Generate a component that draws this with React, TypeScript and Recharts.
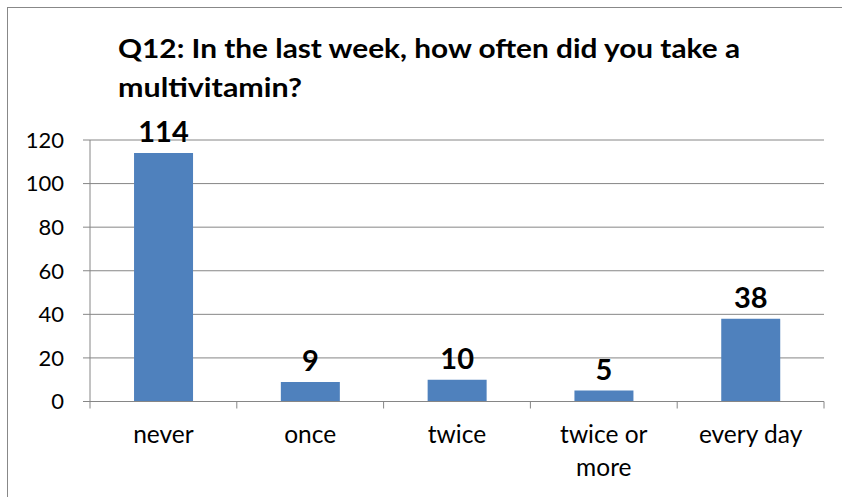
import React from "react";
import { BarChart, Bar, XAxis, YAxis, CartesianGrid, LabelList } from "recharts";

const categories = ["never", "once", "twice", "twice or more", "every day"];
const counts = [114, 9, 10, 5, 38];
const tickLines = [["never"], ["once"], ["twice"], ["twice or", "more"], ["every day"]];
const yTicks = [0, 20, 40, 60, 80, 100, 120];
const titleLines = ["Q12: In the last week, how often did you take a", "multivitamin?"];
const titleWidths = [622, 184];

const data = categories.map((c, i) => ({ name: c, value: counts[i] }));

const FONT = "Lato, 'Open Sans', sans-serif";
const GRID = "#868686";

const XTick = (props: any) => {
  const { x, y, payload, index } = props;
  const half = payload && payload.offset ? payload.offset : 0;
  const lines = tickLines[index] || [String(payload.value)];
  return (
    <g>
      <line x1={x - half} x2={x - half} y1={y} y2={y + 7} stroke={GRID} strokeWidth={1} />
      {index === categories.length - 1 && (
        <line x1={x + half} x2={x + half} y1={y} y2={y + 7} stroke={GRID} strokeWidth={1} />
      )}
      <text x={x} y={y + 41} textAnchor="middle" fontFamily={FONT} fontSize={24.5} fill="#000">
        {lines.map((l, i) => (
          <tspan key={i} x={x} dy={i === 0 ? 0 : 33}>
            {l}
          </tspan>
        ))}
      </text>
    </g>
  );
};

export default function App() {
  return (
    <div style={{ position: "absolute", left: 0, top: 0, width: 842, height: 497, overflow: "hidden", background: "#fff" }}>
      <div
        style={{
          position: "absolute",
          left: 7,
          top: 7,
          width: 900,
          height: 600,
          border: "1px solid #888",
          boxSizing: "border-box",
        }}
      />
      <svg width={842} height={120} style={{ position: "absolute", left: 0, top: 0 }}>
        {titleLines.map((t, i) => (
          <text
            key={i}
            x={118}
            y={i === 0 ? 58 : 97}
            fontFamily={FONT}
            fontWeight={700}
            fontSize={27}
            fill="#000"
            textLength={titleWidths[i]}
            lengthAdjust="spacingAndGlyphs"
          >
            {t}
          </text>
        ))}
      </svg>
      <div style={{ position: "absolute", left: 0, top: 0 }}>
        <BarChart
          width={842}
          height={497}
          data={data}
          margin={{ top: 140, right: 18, left: 0, bottom: 35.5 }}
          barCategoryGap="30%"
        >
          <CartesianGrid vertical={false} stroke={GRID} strokeWidth={1} />
          <XAxis
            dataKey="name"
            height={60}
            tickSize={0}
            tickMargin={0}
            axisLine={{ stroke: GRID }}
            tickLine={false}
            tick={<XTick />}
            interval={0}
          />
          <YAxis
            width={90}
            domain={[0, 120]}
            ticks={yTicks}
            tickSize={7}
            tickMargin={19}
            axisLine={{ stroke: GRID }}
            tickLine={{ stroke: GRID }}
            tick={{ fontFamily: FONT, fontSize: 22, fill: "#000" }}
          />
          <Bar dataKey="value" fill="#4F81BD" isAnimationActive={false}>
            <LabelList
              dataKey="value"
              position="top"
              offset={11}
              style={{ fontFamily: FONT, fontSize: 29, fontWeight: 700, fill: "#000" }}
            />
          </Bar>
        </BarChart>
      </div>
    </div>
  );
}
